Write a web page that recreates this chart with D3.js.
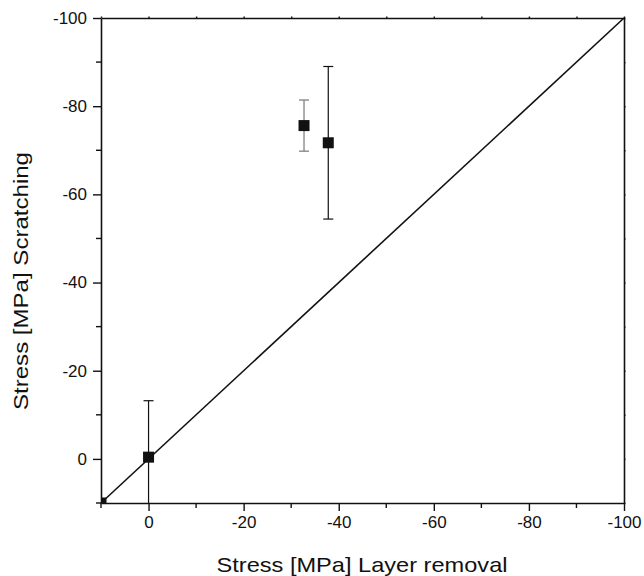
<!DOCTYPE html>
<html>
<head>
<meta charset="utf-8">
<script src="https://d3js.org/d3.v7.min.js"></script>
<style>
  body { margin: 0; background: #fff; }
  text { font-family: "Liberation Sans", Arial, sans-serif; }
</style>
</head>
<body>
<script>
// stress from layer removal (x) vs scratching (y), MPa
const layerRemoval = [10, 0, -32.7, -37.8];
const scratching   = [10, -0.4, -75.6, -71.7];
const errScratch   = [0, 12.8, 5.8, 17.3];
const tickValues   = [0, -20, -40, -60, -80, -100];

const width = 644, height = 576;
const margin = { top: 18, right: 20, bottom: 73, left: 101 };

const svg = d3.select("body").append("svg")
    .attr("width", width)
    .attr("height", height);

const x = d3.scaleLinear().domain([10, -100]).range([margin.left, width - margin.right]);
const y = d3.scaleLinear().domain([10, -100]).range([height - margin.bottom, margin.top]);

const minor = d3.range(-10, -100, -20).concat([10]);
const fmt = d => String(d);

svg.append("clipPath").attr("id", "plot")
    .append("rect")
    .attr("x", margin.left).attr("y", margin.top)
    .attr("width", x(-100) - x(10)).attr("height", y(10) - y(-100));

// diagonal
svg.append("line")
    .attr("x1", x(10)).attr("y1", y(10))
    .attr("x2", x(-100)).attr("y2", y(-100))
    .attr("stroke", "#111").attr("stroke-width", 1.6);

const plot = svg.append("g").attr("clip-path", "url(#plot)");

const pts = layerRemoval.map((v, i) => ({ x: v, y: scratching[i], e: errScratch[i] }));

// error bars
const eb = plot.selectAll(".eb").data(pts.filter(d => d.e > 0)).enter().append("g")
    .attr("stroke", (d, i) => i === 1 ? "#777" : "#111")
    .attr("stroke-width", 1.2);
eb.append("line")
    .attr("x1", d => x(d.x)).attr("x2", d => x(d.x))
    .attr("y1", d => y(d.y - d.e)).attr("y2", d => y(d.y + d.e));
eb.append("line")
    .attr("x1", d => x(d.x) - 5).attr("x2", d => x(d.x) + 5)
    .attr("y1", d => y(d.y - d.e)).attr("y2", d => y(d.y - d.e));
eb.append("line")
    .attr("x1", d => x(d.x) - 5).attr("x2", d => x(d.x) + 5)
    .attr("y1", d => y(d.y + d.e)).attr("y2", d => y(d.y + d.e));

plot.selectAll(".pt").data(pts).enter().append("rect")
    .attr("x", d => x(d.x) - 5.5).attr("y", d => y(d.y) - 5.5)
    .attr("width", 11).attr("height", 11)
    .attr("fill", "#111");

// axes
const axBottom = svg.append("g")
    .attr("transform", `translate(0,${height - margin.bottom})`)
    .call(d3.axisBottom(x).tickValues(tickValues).tickFormat(fmt).tickSize(8).tickPadding(5).tickSizeOuter(0));
const axLeft = svg.append("g")
    .attr("transform", `translate(${margin.left},0)`)
    .call(d3.axisLeft(y).tickValues(tickValues).tickFormat(fmt).tickSize(8).tickPadding(6).tickSizeOuter(0));
const axTop = svg.append("g")
    .attr("transform", `translate(0,${margin.top})`)
    .call(d3.axisTop(x).tickValues(tickValues.concat(minor)).tickSize(1.5).tickFormat("").tickSizeOuter(0));
const axRight = svg.append("g")
    .attr("transform", `translate(${width - margin.right},0)`)
    .call(d3.axisRight(y).tickValues(tickValues.concat(minor)).tickSize(1.5).tickFormat("").tickSizeOuter(0));

axBottom.selectAll(".mn").data(minor).enter().append("line")
    .attr("x1", d => x(d)).attr("x2", d => x(d)).attr("y1", 0).attr("y2", 5)
    .attr("stroke", "#111").attr("stroke-width", 1.4);
axLeft.selectAll(".mn").data(minor).enter().append("line")
    .attr("y1", d => y(d)).attr("y2", d => y(d)).attr("x1", 0).attr("x2", -5)
    .attr("stroke", "#111").attr("stroke-width", 1.4);

[axBottom, axLeft, axTop, axRight].forEach(g => {
    g.select(".domain").attr("stroke", "#111").attr("stroke-width", 1.6);
    g.selectAll(".tick line").attr("stroke", "#111").attr("stroke-width", 1.4);
    g.selectAll("text").attr("font-size", 17).attr("fill", "#111")
        .style("font-family", "'Liberation Sans', Arial, sans-serif");
});

svg.append("text")
    .attr("x", 362).attr("y", 572)
    .attr("text-anchor", "middle").attr("font-size", 21).attr("fill", "#111")
    .attr("textLength", 291).attr("lengthAdjust", "spacingAndGlyphs")
    .text("Stress [MPa] Layer removal");

svg.append("text")
    .attr("transform", "translate(28,281) rotate(-90)")
    .attr("text-anchor", "middle").attr("font-size", 21).attr("fill", "#111")
    .attr("textLength", 258).attr("lengthAdjust", "spacingAndGlyphs")
    .text("Stress [MPa] Scratching");
</script>
</body>
</html>
